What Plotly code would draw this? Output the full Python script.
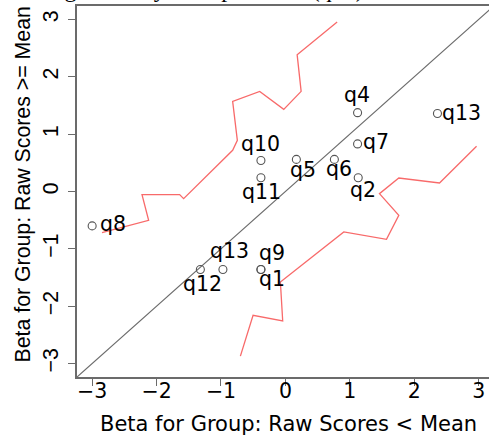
import plotly.graph_objects as go

# Item betas for the two score groups
items = ["q1", "q2", "q4", "q5", "q6", "q7", "q8", "q9", "q10", "q11", "q12", "q13", "q13"]
beta_low = [-0.38, 1.13, 1.12, 0.17, 0.76, 1.12, -3.00, -0.38, -0.38, -0.38, -1.32, 2.36, -0.97]
beta_high = [-1.36, 0.24, 1.375, 0.56, 0.56, 0.83, -0.60, -1.36, 0.54, 0.24, -1.36, 1.36, -1.36]

# Upper and lower confidence bands
upper_x = [-2.847, -2.123, -2.226, -1.642, -1.580, -0.819, -0.746, -0.819, -0.399, -0.026, 0.244, 0.182, 0.803]
upper_y = [-0.716, -0.502, -0.054, -0.054, -0.124, 0.718, 0.892, 1.572, 1.746, 1.433, 1.746, 2.386, 2.954]
lower_x = [-0.699, -0.502, -0.042, -0.078, 0.906, 1.569, 1.760, 1.460, 1.760, 2.392, 2.967]
lower_y = [-2.871, -2.158, -2.257, -1.577, -0.706, -0.833, -0.415, -0.037, 0.235, 0.148, 0.788]

# Identity line
ident = [-4, 4]

tick_vals = [-3, -2, -1, 0, 1, 2, 3]
tick_text = ["\u22123", "\u22122", "\u22121", "0", "1", "2", "3"]

# Label offsets (pixels, dx right / dy down) for each item label
label_dx = [11.4, 4.5, -0.6, 6.3, 4.7, 18.5, 20.5, 10.7, -0.8, 0.5, 2.2, 23.8, 6.7]
label_dy = [10, 12, -17.3, 10.7, 9.7, -1.6, -2.4, -16, -16.7, 14.4, 14.7, -1, -18.3]

GRAY = "#6b6b6b"
RED = "#f86a6a"
HFONT = "DejaVu Sans"
VFONT = "Liberation Sans"

fig = go.Figure()
fig.add_trace(go.Scatter(x=ident, y=ident, mode="lines",
                         line=dict(color=GRAY, width=1.2), hoverinfo="skip"))
fig.add_trace(go.Scatter(x=upper_x, y=upper_y, mode="lines",
                         line=dict(color=RED, width=1.3), hoverinfo="skip"))
fig.add_trace(go.Scatter(x=lower_x, y=lower_y, mode="lines",
                         line=dict(color=RED, width=1.3), hoverinfo="skip"))
fig.add_trace(go.Scatter(x=beta_low, y=beta_high, mode="markers",
                         marker=dict(symbol="circle-open", size=8, color="#555555",
                                     line=dict(width=1.1)),
                         text=items, hoverinfo="text"))

for name, xv, yv, dx, dy in zip(items, beta_low, beta_high, label_dx, label_dy):
    fig.add_annotation(x=xv, y=yv, xref="x", yref="y", text=name, showarrow=False,
                       xanchor="center", yanchor="middle", xshift=dx, yshift=-dy,
                       font=dict(family=HFONT, size=20.5, color="black"))

fig.add_annotation(x=0.513, y=-0.1258, xref="paper", yref="paper",
                   text="Beta for Group: Raw Scores &lt; Mean", showarrow=False,
                   xanchor="center", yanchor="middle",
                   font=dict(family=HFONT, size=21, color="black"))
fig.add_annotation(x=-0.131, y=0.519, xref="paper", yref="paper",
                   text="Beta for Group: Raw Scores &gt;= Mean", showarrow=False,
                   textangle=-90, xanchor="center", yanchor="middle",
                   font=dict(family=VFONT, size=21.3, color="black"))
fig.add_annotation(x=0.7015, y=1, xref="paper", yref="paper",
                   text="Differential Functioning Items by Group Scatter (q13)",
                   showarrow=False, xanchor="right", yanchor="bottom", yshift=2,
                   font=dict(family="Liberation Serif", size=24, color="black"))

fig.update_xaxes(range=[-3.235, 3.16], tickvals=tick_vals, ticktext=tick_text,
                 ticks="outside", ticklen=7, tickwidth=1.3, tickcolor=GRAY,
                 showline=True, linecolor=GRAY, linewidth=1.5, mirror=True,
                 showgrid=False, zeroline=False, ticklabelstandoff=-12,
                 tickfont=dict(family=HFONT, size=20.5, color="black"))
fig.update_yaxes(range=[-3.235, 3.235], tickvals=tick_vals, ticktext=tick_text,
                 tickangle=-90, ticks="outside", ticklen=7, tickwidth=1.3, tickcolor=GRAY,
                 showline=True, linecolor=GRAY, linewidth=1.5, mirror=False,
                 showgrid=False, zeroline=False, ticklabelstandoff=2,
                 tickfont=dict(family=VFONT, size=21.3, color="black"))

fig.update_layout(width=489, height=436, showlegend=False,
                  margin=dict(l=77, r=0, t=5.6, b=59.2, autoexpand=False),
                  plot_bgcolor="white", paper_bgcolor="white")

fig.write_html("out.html")
